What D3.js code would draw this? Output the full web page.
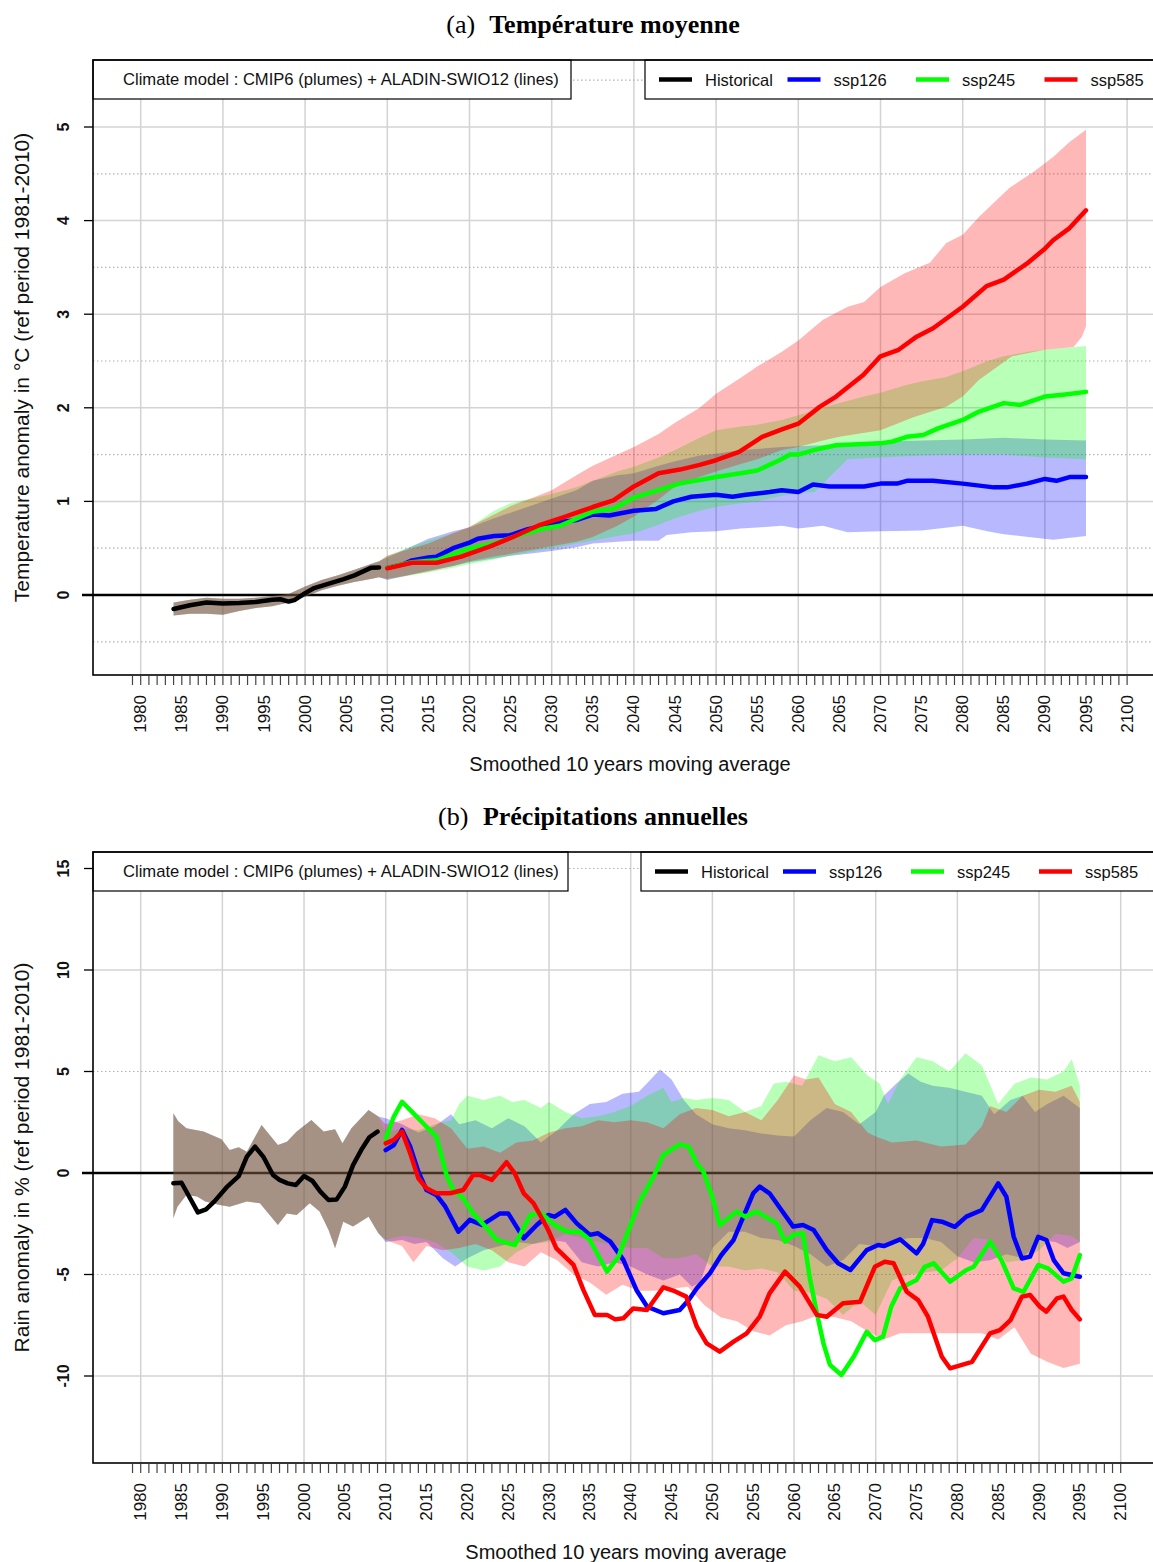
<!DOCTYPE html>
<html><head><meta charset="utf-8">
<script src="https://cdn.jsdelivr.net/npm/d3@7"></script>
<style>body{margin:0;background:#fff}</style>
</head><body>
<script>
// ---------------- DATA ----------------
const xTickYears = d3.range(1980, 2101, 5);
const tempYTicks = [0, 1, 2, 3, 4, 5];
const rainYTicks = [-10, -5, 0, 5, 10, 15];
const legendLabels = ["Historical", "ssp126", "ssp245", "ssp585"];

// Panel (a) temperature anomaly (°C)
const tempHist = [[1984,-0.15],[1986,-0.11],[1988,-0.08],[1990,-0.09],[1992,-0.085],[1994,-0.075],[1996,-0.05],[1997,-0.045],[1998,-0.07],[1998.7,-0.055],[2000,0.02],[2001,0.07],[2003,0.125],[2004.7,0.17],[2006,0.21],[2008,0.29],[2009,0.295]];
const tempHistUpper = [[1984,-0.08],[1986,-0.05],[1988,-0.03],[1990,-0.04],[1992,-0.04],[1994,-0.03],[1996,-0.01],[1998,0.01],[2000,0.09],[2002,0.16],[2004,0.21],[2006,0.27],[2008,0.33],[2009,0.36]];
const tempHistLower = [[1984,-0.22],[1986,-0.2],[1988,-0.2],[1990,-0.21],[1992,-0.17],[1994,-0.14],[1996,-0.12],[1998,-0.08],[2000,-0.02],[2002,0.05],[2004,0.1],[2006,0.14],[2008,0.17],[2009,0.19]];

const temp126 = [[2010,0.29],[2012,0.33],[2013,0.37],[2015,0.40],[2016,0.41],[2018,0.50],[2020,0.56],[2021,0.6],[2023,0.63],[2025,0.64],[2027,0.70],[2029,0.74],[2031,0.78],[2033,0.80],[2035,0.86],[2037,0.85],[2040,0.90],[2042.7,0.92],[2044.8,1.0],[2047,1.05],[2050,1.07],[2052,1.05],[2053.6,1.07],[2056.5,1.10],[2058,1.12],[2060,1.10],[2061.8,1.18],[2063.8,1.16],[2068,1.16],[2070,1.19],[2072,1.19],[2073.2,1.22],[2076.4,1.22],[2080,1.19],[2083.8,1.15],[2085.4,1.15],[2087.8,1.19],[2090,1.24],[2091.4,1.22],[2093,1.26],[2095,1.26]];
const temp245 = [[2010,0.29],[2013,0.35],[2016,0.37],[2020,0.50],[2023,0.55],[2026,0.64],[2029,0.71],[2031,0.74],[2035,0.89],[2037.5,0.92],[2040,1.04],[2043,1.12],[2045.5,1.19],[2050,1.26],[2053,1.30],[2055,1.33],[2057.7,1.44],[2059,1.5],[2060,1.5],[2062,1.55],[2064.6,1.60],[2070,1.62],[2071.5,1.64],[2073.2,1.69],[2075.2,1.71],[2077,1.78],[2080,1.87],[2082,1.96],[2085,2.05],[2087,2.03],[2090,2.12],[2092.2,2.14],[2095,2.17]];
const temp585 = [[2010,0.285],[2013,0.345],[2016,0.345],[2019,0.41],[2022.5,0.52],[2025.3,0.62],[2028.6,0.75],[2031.4,0.83],[2035,0.94],[2037.5,1.01],[2040,1.16],[2043,1.30],[2045.6,1.34],[2048,1.39],[2050,1.44],[2052.8,1.53],[2055.6,1.69],[2058,1.77],[2060,1.83],[2062.6,2.01],[2064.6,2.12],[2067.9,2.35],[2070,2.55],[2072.2,2.62],[2074.4,2.76],[2076.4,2.85],[2080,3.08],[2082.9,3.30],[2085,3.37],[2087.8,3.54],[2090,3.70],[2091,3.79],[2093,3.92],[2095,4.11]];

const temp126Upper = [[2010,0.40],[2013,0.52],[2015,0.60],[2018,0.68],[2020,0.72],[2023,0.82],[2025,0.88],[2028,0.97],[2030,1.03],[2033,1.12],[2035,1.22],[2038,1.28],[2040,1.30],[2043,1.38],[2045,1.43],[2048,1.49],[2050,1.51],[2053,1.55],[2055,1.56],[2058,1.58],[2060,1.59],[2063,1.60],[2065,1.61],[2068,1.63],[2070,1.64],[2075,1.65],[2080,1.66],[2085,1.68],[2090,1.66],[2095,1.65]];
const temp126Lower = [[2010,0.16],[2013,0.22],[2015,0.26],[2018,0.31],[2020,0.35],[2023,0.39],[2025,0.42],[2028,0.45],[2030,0.47],[2033,0.51],[2035,0.55],[2038,0.57],[2040,0.58],[2043,0.58],[2044,0.64],[2047,0.67],[2050,0.68],[2053,0.71],[2055,0.72],[2058,0.74],[2060,0.71],[2063,0.74],[2066,0.67],[2070,0.68],[2075,0.69],[2080,0.74],[2083,0.68],[2085,0.65],[2088,0.62],[2091,0.59],[2095,0.63]];
const temp245Upper = [[2010,0.42],[2013,0.52],[2015,0.58],[2018,0.66],[2020,0.72],[2023,0.9],[2025,0.98],[2028,1.04],[2030,1.08],[2033,1.15],[2035,1.22],[2038,1.32],[2040,1.37],[2043,1.47],[2045,1.55],[2048,1.68],[2050,1.76],[2053,1.80],[2055,1.82],[2058,1.87],[2060,1.92],[2063,2.0],[2065,2.05],[2068,2.12],[2070,2.16],[2073,2.24],[2075,2.28],[2078,2.33],[2080,2.39],[2083,2.5],[2085,2.55],[2088,2.6],[2090,2.62],[2095,2.66]];
const temp245Lower = [[2010,0.17],[2013,0.21],[2015,0.24],[2018,0.29],[2020,0.33],[2023,0.38],[2025,0.42],[2028,0.47],[2030,0.50],[2033,0.55],[2035,0.58],[2038,0.63],[2040,0.66],[2043,0.75],[2045,0.82],[2048,0.9],[2050,0.94],[2053,0.98],[2055,1.0],[2058,1.06],[2060,1.09],[2062,1.1],[2064,1.28],[2066,1.45],[2070,1.47],[2075,1.49],[2080,1.5],[2085,1.5],[2090,1.47],[2095,1.45]];
const temp585Upper = [[2010,0.42],[2013,0.50],[2015,0.55],[2018,0.66],[2020,0.73],[2023,0.86],[2025,0.95],[2028,1.05],[2030,1.12],[2033,1.28],[2035,1.38],[2038,1.50],[2040,1.58],[2043,1.72],[2045,1.84],[2048,2.0],[2050,2.15],[2053,2.32],[2055,2.44],[2058,2.60],[2060,2.72],[2063,2.94],[2066,3.08],[2068,3.13],[2070,3.29],[2073,3.44],[2076,3.55],[2078,3.76],[2080,3.85],[2082,4.04],[2085.7,4.35],[2088.6,4.52],[2091,4.68],[2093,4.84],[2095,4.97]];
const temp585Lower = [[2010,0.17],[2013,0.22],[2015,0.25],[2018,0.31],[2020,0.36],[2023,0.41],[2025,0.44],[2028,0.49],[2030,0.52],[2033,0.57],[2035,0.62],[2038,0.74],[2040,0.84],[2043,1.02],[2045,1.16],[2048,1.26],[2050,1.32],[2053,1.40],[2055,1.45],[2058,1.55],[2060,1.58],[2063,1.65],[2065,1.69],[2070,1.76],[2074,1.90],[2078,2.01],[2080,2.12],[2082,2.30],[2086,2.55],[2090,2.62],[2093.5,2.65],[2094.5,2.76],[2095,2.87]];

// Panel (b) rain anomaly (%)
const rainHist = [[1984,-0.51],[1985,-0.48],[1987,-1.94],[1988,-1.79],[1989,-1.41],[1990.5,-0.71],[1992,-0.15],[1993,0.81],[1994,1.30],[1995,0.81],[1996.2,-0.10],[1997,-0.34],[1998,-0.51],[1999,-0.59],[2000,-0.15],[2001,-0.38],[2002,-0.92],[2003,-1.33],[2004,-1.30],[2005,-0.67],[2006,0.39],[2007,1.13],[2008,1.76],[2009,2.04]];
const rainHistUpper = [[1984,2.94],[1984.6,2.55],[1985.6,2.2],[1987.7,2.04],[1989.9,1.66],[1990.9,1.13],[1992,1.27],[1993,1.05],[1994.8,2.37],[1995.8,1.87],[1996.8,1.38],[1997.9,1.54],[1999.1,2.04],[2000.9,2.61],[2002.4,2.04],[2003.8,2.15],[2004.7,1.46],[2005.8,2.20],[2007.9,3.10],[2009.1,2.78]];
const rainHistLower = [[1984,-2.23],[1984.5,-1.66],[1985.6,-1.08],[1986.9,-1.16],[1987.9,-1.41],[1989.7,-1.58],[1990.9,-1.66],[1993,-1.41],[1994.6,-1.49],[1996.8,-2.56],[1997.9,-1.99],[1999.1,-2.07],[2000.7,-1.49],[2001.9,-1.9],[2003,-2.81],[2003.8,-3.71],[2004.8,-2.40],[2006,-2.64],[2007.9,-2.15],[2009.1,-2.97]];

const rain126 = [[2010,1.13],[2011,1.38],[2012,2.12],[2013,1.30],[2014,0.07],[2015,-0.84],[2016.2,-1.08],[2017.3,-1.66],[2018.9,-2.89],[2020.3,-2.31],[2021.8,-2.56],[2024,-1.99],[2025,-1.99],[2026.9,-3.22],[2028.5,-2.56],[2029.9,-2.07],[2030.7,-2.15],[2032,-1.82],[2033.4,-2.48],[2035,-3.05],[2036,-2.97],[2037.5,-3.38],[2039.1,-4.28],[2040.7,-5.76],[2042,-6.58],[2044,-6.91],[2046,-6.75],[2047.1,-6.26],[2048.1,-5.68],[2049.7,-4.94],[2051.1,-4.04],[2052.6,-3.30],[2053.8,-2.15],[2055,-1.0],[2055.8,-0.67],[2057,-1.0],[2058.3,-1.74],[2059.9,-2.64],[2061.1,-2.56],[2062.4,-2.81],[2064,-3.79],[2065.4,-4.45],[2066.9,-4.78],[2068.9,-3.80],[2070.3,-3.55],[2071,-3.6],[2073,-3.27],[2075,-3.96],[2075.8,-3.5],[2076.9,-2.32],[2078.1,-2.4],[2079.7,-2.65],[2081.1,-2.15],[2083,-1.82],[2085,-0.51],[2086,-1.17],[2086.9,-3.14],[2087.9,-4.21],[2088.9,-4.12],[2089.9,-3.14],[2090.9,-3.30],[2091.8,-4.29],[2093,-4.94],[2095,-5.11]];
const rain245 = [[2010,1.71],[2011,2.78],[2012,3.51],[2013.4,2.94],[2015,2.28],[2016.2,1.79],[2017.5,-0.18],[2018.3,-0.84],[2019.5,-1.25],[2020.7,-1.99],[2022.4,-2.72],[2023.6,-3.30],[2025.8,-3.55],[2026.4,-3.1],[2027.7,-2.07],[2029.1,-2.0],[2030.7,-2.56],[2032.2,-2.89],[2033.8,-2.89],[2035,-3.30],[2037.1,-4.86],[2038.5,-4.12],[2039.9,-2.64],[2041.1,-1.41],[2042.8,-0.18],[2044,0.89],[2046,1.41],[2047.1,1.30],[2048.1,0.48],[2048.9,0.07],[2050.1,-1.33],[2050.9,-2.56],[2053,-1.90],[2054,-2.15],[2055.4,-1.90],[2057.9,-2.48],[2058.9,-3.38],[2059.9,-3.05],[2061.1,-2.97],[2061.9,-5.11],[2062.8,-6.91],[2063.6,-8.39],[2064.4,-9.45],[2065.8,-9.95],[2067.3,-9.05],[2068.9,-7.82],[2069.9,-8.23],[2070.9,-8.06],[2071.9,-6.59],[2073,-5.68],[2075,-5.27],[2076,-4.62],[2077.1,-4.45],[2079.1,-5.35],[2081.1,-4.78],[2082,-4.62],[2084,-3.38],[2085.4,-4.29],[2086.9,-5.68],[2088.1,-5.85],[2089.9,-4.53],[2091.1,-4.70],[2093,-5.35],[2094,-5.19],[2095,-4.04]];
const rain585 = [[2010,1.46],[2011,1.63],[2012,2.04],[2013,0.97],[2014,-0.26],[2015,-0.75],[2016.2,-1.0],[2017.9,-1.0],[2019.5,-0.84],[2020.7,-0.10],[2021.5,-0.10],[2023,-0.34],[2024.8,0.53],[2025.8,-0.02],[2026.9,-1.0],[2028.1,-1.49],[2028.9,-2.07],[2029.9,-2.81],[2030.9,-3.71],[2033,-4.53],[2034.2,-5.76],[2035.6,-6.99],[2037.1,-6.99],[2038.1,-7.21],[2039.1,-7.16],[2040.3,-6.67],[2042,-6.75],[2044,-5.63],[2045.2,-5.79],[2046.8,-6.09],[2048.1,-7.57],[2049.3,-8.39],[2050.9,-8.80],[2052.6,-8.31],[2054.2,-7.90],[2055.8,-7.08],[2057,-5.93],[2058.9,-4.86],[2060.7,-5.60],[2062.8,-6.99],[2064,-7.08],[2066,-6.42],[2068.1,-6.34],[2069.9,-4.62],[2071.1,-4.37],[2072.2,-4.45],[2073.8,-5.85],[2075.2,-6.26],[2076.4,-7.08],[2078.1,-9.05],[2079.1,-9.62],[2081.8,-9.30],[2084,-7.90],[2085.2,-7.74],[2086.5,-7.25],[2087.9,-6.09],[2088.9,-6.01],[2090.1,-6.59],[2090.9,-6.83],[2092.2,-6.18],[2093,-6.09],[2094,-6.75],[2095,-7.21]];

const rain126Upper = [[2010,2.7],[2012,2.4],[2014,2.0],[2016,2.3],[2018,2.9],[2019,2.4],[2021,2.6],[2023,2.2],[2025,2.7],[2027,2.3],[2029,1.5],[2031,2.1],[2033,2.9],[2035,3.4],[2037,3.5],[2039,3.9],[2041,4.0],[2043.6,5.1],[2045,4.6],[2046.5,3.6],[2048,2.9],[2050,2.4],[2052,2.2],[2054,2.1],[2056,1.95],[2058,1.85],[2060,1.8],[2062,2.6],[2064,3.2],[2066,3.0],[2068,2.4],[2070,3.0],[2071,3.8],[2072.5,4.4],[2074,4.9],[2075.5,4.5],[2077,4.3],[2079,4.2],[2081,4.0],[2083,3.8],[2084.5,2.9],[2086.5,3.6],[2088,3.8],[2089.5,3.0],[2091,3.4],[2093,3.8],[2095,3.2]];
const rain126Lower = [[2010,-3.4],[2012,-3.3],[2013.5,-3.5],[2015,-3.4],[2017,-4.2],[2018.5,-4.6],[2020,-4.2],[2022,-3.8],[2024,-3.6],[2026,-3.4],[2028,-3.5],[2030,-3.3],[2032,-3.4],[2034,-4.4],[2036,-4.6],[2038,-4.4],[2040,-4.6],[2042,-5.0],[2044,-5.3],[2046,-5.0],[2047.5,-5.6],[2048.5,-5.4],[2050,-3.7],[2052,-2.9],[2054,-2.9],[2056,-3.2],[2058,-3.3],[2060,-3.6],[2062,-4.0],[2064,-4.6],[2066,-4.3],[2068,-3.5],[2070,-3.6],[2072,-3.5],[2074,-3.2],[2076,-3.2],[2078,-3.4],[2080,-4.1],[2082,-4.4],[2084,-4.3],[2086,-4.0],[2088,-4.2],[2090,-3.3],[2092,-3.4],[2093.5,-3.7],[2095,-3.4]];
const rain245Upper = [[2010,2.0],[2012,2.2],[2014,2.1],[2016,2.4],[2018,2.6],[2019,3.4],[2020,3.8],[2022,3.6],[2024,3.8],[2025.5,3.5],[2027,3.6],[2029,3.2],[2030,3.5],[2032,3.0],[2034,2.7],[2036,2.8],[2038,3.0],[2040,3.3],[2042,3.8],[2044,4.2],[2045,3.5],[2046.5,3.7],[2048,3.6],[2050,3.7],[2052,3.6],[2054,3.0],[2056,3.3],[2057.5,4.4],[2059,4.5],[2061,4.3],[2063,5.8],[2065,5.5],[2067,5.7],[2069,4.8],[2070.5,4.4],[2071.5,3.4],[2073,4.6],[2075,5.7],[2077,5.5],[2079,5.0],[2081,5.9],[2083,5.3],[2085,3.4],[2087,4.4],[2089,4.7],[2091,4.6],[2093,5.0],[2094,5.6],[2095,4.3]];
const rain245Lower = [[2010,-3.3],[2012,-3.1],[2014,-3.2],[2016,-3.4],[2018,-3.9],[2020,-4.6],[2022,-4.8],[2024,-4.6],[2026,-3.9],[2028,-3.5],[2030,-3.4],[2032,-3.0],[2034,-3.2],[2036,-3.4],[2038,-3.6],[2040,-3.7],[2042,-3.7],[2044,-4.2],[2046,-4.2],[2048,-4.0],[2050,-4.6],[2052,-4.6],[2054,-4.8],[2056,-4.7],[2058,-4.9],[2060,-5.8],[2062,-5.9],[2064,-6.2],[2066,-7.0],[2068,-6.3],[2070,-7.0],[2072,-5.3],[2074,-5.0],[2076,-4.9],[2078,-4.8],[2080,-4.2],[2082,-3.2],[2084,-3.3],[2086,-4.4],[2088,-4.3],[2090,-3.8],[2092,-3.0],[2094,-3.1],[2095,-3.4]];
const rain585Upper = [[2010,2.4],[2012,2.6],[2014,2.9],[2016,2.7],[2018,2.2],[2020,1.2],[2022,1.3],[2024,1.0],[2026,1.5],[2028,1.6],[2030,2.0],[2032,2.2],[2034,2.3],[2036,2.6],[2038,2.5],[2040,2.6],[2042,2.5],[2044,2.2],[2046,2.9],[2048,3.2],[2050,3.1],[2052,2.8],[2054,3.0],[2056,2.6],[2058,3.6],[2060,4.8],[2061.5,4.6],[2063,4.7],[2065,3.4],[2067,3.0],[2069,2.0],[2070,1.8],[2072,1.5],[2075,1.6],[2078,1.3],[2081,1.4],[2083,2.3],[2084,3.3],[2086,3.0],[2088,3.8],[2090,4.1],[2092,4.0],[2094,4.3],[2095,3.5]];
const rain585Lower = [[2010,-3.3],[2012,-3.6],[2013.4,-4.4],[2015,-3.6],[2017,-3.8],[2019,-3.7],[2021,-3.5],[2023,-3.8],[2025,-4.4],[2027,-4.6],[2029,-3.9],[2031,-4.3],[2033,-5.0],[2035,-5.4],[2037,-6.0],[2039,-5.5],[2041,-5.8],[2043,-5.8],[2045,-5.7],[2047,-5.6],[2049,-6.5],[2051,-7.1],[2053,-7.3],[2055,-7.8],[2057,-8.0],[2059,-7.5],[2061,-7.3],[2063,-7.0],[2065,-7.1],[2067,-7.3],[2069,-7.8],[2071,-8.2],[2073,-7.9],[2075,-7.9],[2077,-7.9],[2079,-7.9],[2081,-7.9],[2083,-7.9],[2085,-8.2],[2087,-7.6],[2089,-8.9],[2091,-9.3],[2093,-9.6],[2095,-9.4]];

// ---------------- DRAWING ----------------
const LINE_COL = ["#000000", "#0000ff", "#00ff00", "#ff0000"];
const PLUME_FILL = ["rgba(0,0,255,0.28)", "rgba(0,255,0,0.28)", "rgba(255,0,0,0.28)"];
const SANS = "'Liberation Sans', Arial, sans-serif";
const SERIF = "'Liberation Serif', 'Times New Roman', serif";

const svg = d3.select("body").append("svg").attr("width", 1153).attr("height", 1562);
const defs = svg.append("defs");

function drawPanel(p) {
  const {x, y, f} = p;
  const g = svg.append("g");
  defs.append("clipPath").attr("id", "clip" + p.id).append("rect")
    .attr("x", f.l).attr("y", f.t).attr("width", f.r - f.l).attr("height", f.b - f.t);

  // grid
  g.selectAll(null).data(d3.range(1980, 2101, 10)).join("line")
    .attr("x1", d => x(d)).attr("x2", d => x(d)).attr("y1", f.t).attr("y2", f.b)
    .attr("stroke", "#d3d3d3").attr("stroke-width", 1.5);
  g.selectAll(null).data(p.solidGrid).join("line")
    .attr("x1", f.l).attr("x2", f.r).attr("y1", d => y(d)).attr("y2", d => y(d))
    .attr("stroke", "#d3d3d3").attr("stroke-width", 1.5);
  g.selectAll(null).data(p.dotGrid).join("line")
    .attr("x1", f.l).attr("x2", f.r).attr("y1", d => y(d)).attr("y2", d => y(d))
    .attr("stroke", "#b4b4b4").attr("stroke-width", 1.2).attr("stroke-dasharray", "1.5 2.5");

  // zero line (under plumes)
  g.append("line").attr("x1", f.l - 11).attr("x2", f.r).attr("y1", y(0)).attr("y2", y(0))
    .attr("stroke", "#000").attr("stroke-width", 2.5);

  const pg = g.append("g").attr("clip-path", `url(#clip${p.id})`);
  const lineGen = d3.line().x(d => x(d[0])).y(d => y(d[1]));
  p.plumes.forEach((pl, i) => {
    const up = p.histUpper.concat(pl[0]);
    const lo = p.histLower.concat(pl[1]);
    const pts = up.concat(lo.slice().reverse());
    pg.append("path").attr("d", lineGen(pts) + "Z").attr("fill", PLUME_FILL[i]).attr("stroke", "none");
  });
  p.lines.forEach((ln, i) => {
    pg.append("path").attr("d", lineGen(ln)).attr("fill", "none")
      .attr("stroke", LINE_COL[i]).attr("stroke-width", 4.5)
      .attr("stroke-linejoin", "round").attr("stroke-linecap", "round");
  });

  // legend boxes
  const bb = p.boxBottom, cy = (f.t + bb) / 2;
  g.append("rect").attr("x", f.l).attr("y", f.t).attr("width", p.lbx - f.l).attr("height", bb - f.t)
    .attr("fill", "#fff").attr("stroke", "#000").attr("stroke-width", 1.2);
  g.append("text").attr("x", f.l + 30).attr("y", cy).attr("dominant-baseline", "central")
    .attr("font-family", SANS).attr("font-size", 16.6).attr("fill", "#111")
    .text("Climate model : CMIP6 (plumes) + ALADIN-SWIO12 (lines)");
  g.append("rect").attr("x", p.rbx).attr("y", f.t).attr("width", f.r - p.rbx).attr("height", bb - f.t)
    .attr("fill", "#fff").attr("stroke", "#000").attr("stroke-width", 1.2);
  legendLabels.forEach((lab, i) => {
    const x0 = p.rbx + 14 + i * p.step;
    g.append("line").attr("x1", x0).attr("x2", x0 + 33).attr("y1", cy).attr("y2", cy)
      .attr("stroke", LINE_COL[i]).attr("stroke-width", 4.5);
    g.append("text").attr("x", x0 + 46).attr("y", cy).attr("dominant-baseline", "central")
      .attr("font-family", SANS).attr("font-size", 16.5).attr("fill", "#111").text(lab);
  });

  // frame
  g.append("rect").attr("x", f.l).attr("y", f.t).attr("width", f.r - f.l).attr("height", f.b - f.t)
    .attr("fill", "none").attr("stroke", "#000").attr("stroke-width", 1.6);

  // x axis ticks
  g.selectAll(null).data(d3.range(1979, 2101)).join("line")
    .attr("x1", d => x(d)).attr("x2", d => x(d)).attr("y1", f.b + 1).attr("y2", f.b + 10)
    .attr("stroke", "#444").attr("stroke-width", 1.2);
  g.selectAll(null).data(xTickYears).join("text")
    .attr("transform", d => `translate(${x(d)},${f.b + 20}) rotate(-90)`)
    .attr("text-anchor", "end").attr("dominant-baseline", "central")
    .attr("font-family", SANS).attr("font-size", 17).attr("fill", "#111").text(d => d);

  // y axis ticks
  g.selectAll(null).data(p.yTicks).join("line")
    .attr("x1", f.l - 9).attr("x2", f.l).attr("y1", d => y(d)).attr("y2", d => y(d))
    .attr("stroke", "#000").attr("stroke-width", 1.3);
  g.selectAll(null).data(p.yTicks).join("text")
    .attr("transform", d => `translate(63,${y(d)}) rotate(-90)`)
    .attr("text-anchor", "middle").attr("dominant-baseline", "central")
    .attr("font-family", SANS).attr("font-size", 16).attr("font-weight", "bold").attr("fill", "#111")
    .text(d => d);

  // axis titles
  g.append("text").attr("transform", `translate(29,${(f.t + f.b) / 2}) rotate(-90)`)
    .attr("text-anchor", "middle").attr("font-family", SANS).attr("font-size", 21).attr("fill", "#111")
    .text(p.yTitle);
  g.append("text").attr("x", p.xTitleX).attr("y", p.xTitleY).attr("text-anchor", "middle")
    .attr("font-family", SANS).attr("font-size", 20).attr("fill", "#111")
    .text("Smoothed 10 years moving average");

  // main title
  const t = g.append("text").attr("x", 593).attr("y", p.titleY).attr("text-anchor", "middle")
    .attr("font-family", SERIF).attr("font-size", 26).attr("fill", "#000");
  t.append("tspan").text(p.titleTag);
  t.append("tspan").attr("dx", 8).attr("font-weight", "bold").text(" " + p.titleText);
}

drawPanel({
  id: "a",
  x: d3.scaleLinear().domain([1980, 2100]).range([140.7, 1127.1]),
  y: d3.scaleLinear().domain([0, 5]).range([595, 127]),
  f: {l: 93, r: 1167, t: 60, b: 675},
  solidGrid: tempYTicks,
  dotGrid: [-0.5, 0.5, 1.5, 2.5, 3.5, 4.5, 5.5],
  yTicks: tempYTicks,
  histUpper: tempHistUpper, histLower: tempHistLower,
  plumes: [[temp126Upper, temp126Lower], [temp245Upper, temp245Lower], [temp585Upper, temp585Lower]],
  lines: [tempHist, temp126, temp245, temp585],
  boxBottom: 99, lbx: 571, rbx: 645, step: 128.5,
  yTitle: "Temperature anomaly in °C (ref period 1981-2010)",
  xTitleX: 630, xTitleY: 771,
  titleY: 33, titleTag: "(a)", titleText: "Température moyenne"
});

drawPanel({
  id: "b",
  x: d3.scaleLinear().domain([1980, 2100]).range([140.7, 1120.7]),
  y: d3.scaleLinear().domain([-10, 15]).range([1376, 868.5]),
  f: {l: 93, r: 1158, t: 852, b: 1463},
  solidGrid: [-10, 0, 10],
  dotGrid: [-5, 5, 15],
  yTicks: rainYTicks,
  histUpper: rainHistUpper, histLower: rainHistLower,
  plumes: [[rain126Upper, rain126Lower], [rain245Upper, rain245Lower], [rain585Upper, rain585Lower]],
  lines: [rainHist, rain126, rain245, rain585],
  boxBottom: 891, lbx: 568, rbx: 641, step: 128,
  yTitle: "Rain anomaly in % (ref period 1981-2010)",
  xTitleX: 626, xTitleY: 1559,
  titleY: 825, titleTag: "(b)", titleText: "Précipitations annuelles"
});
</script>
</body></html>
